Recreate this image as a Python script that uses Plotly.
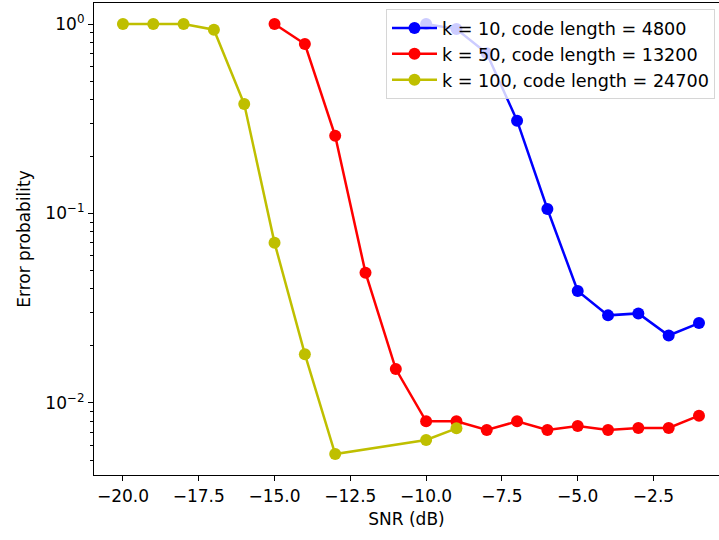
import plotly.graph_objects as go

# ---- data ----
snr_k10 = [-10, -9, -8, -7, -6, -5, -4, -3, -2, -1]
err_k10 = [1.0, 0.94, 0.70, 0.309, 0.1056, 0.039, 0.029, 0.0297, 0.0227, 0.0264]

snr_k50 = [-15, -14, -13, -12, -11, -10, -9, -8, -7, -6, -5, -4, -3, -2, -1]
err_k50 = [1.0, 0.784, 0.257, 0.0487, 0.0151, 0.0080, 0.0080, 0.0072, 0.0080,
           0.0072, 0.00756, 0.0072, 0.00738, 0.00738, 0.00857]

snr_k100 = [-20, -19, -18, -17, -16, -15, -14, -13, -10, -9]
err_k100 = [1.0, 1.0, 1.0, 0.933, 0.378, 0.070, 0.0181, 0.00538, 0.00638, 0.00735]

series_names = ["k = 10, code length = 4800",
                "k = 50, code length = 13200",
                "k = 100, code length = 24700"]
series_colors = ["#0000ff", "#ff0000", "#bfbf00"]

x_tickvals = [-20.0, -17.5, -15.0, -12.5, -10.0, -7.5, -5.0, -2.5]
x_ticktext = ["\u221220.0", "\u221217.5", "\u221215.0", "\u221212.5",
              "\u221210.0", "\u22127.5", "\u22125.0", "\u22122.5"]
y_tickvals = [1, 0.1, 0.01]
y_ticktext = ["10<sup>0</sup>", "10<sup>\u22121</sup>", "10<sup>\u22122</sup>"]

W, H = 719, 540
ML, MR, MT, MB = 94, 0, 3, 65
FS = 17
LFS = 17.6

fig = go.Figure()
for i, (xs, ys) in enumerate([(snr_k10, err_k10), (snr_k50, err_k50), (snr_k100, err_k100)]):
    fig.add_trace(go.Scatter(
        x=xs, y=ys, mode="lines+markers", name=series_names[i],
        line=dict(color=series_colors[i], width=2.5),
        marker=dict(color=series_colors[i], size=12, line=dict(width=0)),
    ))

font_family = "DejaVu Sans"
fig.update_layout(
    width=W, height=H,
    margin=dict(l=ML, r=MR, t=MT, b=MB, pad=0),
    paper_bgcolor="white", plot_bgcolor="white",
    font=dict(family=font_family, size=FS, color="black"),
    showlegend=True,
    legend=dict(
        x=(386 - ML) / (W - ML), y=1 - (9 - MT) / (H - MT - MB),
        xanchor="left", yanchor="top",
        bgcolor="rgba(255,255,255,0.8)",
        bordercolor="rgba(204,204,204,0.8)", borderwidth=1,
        font=dict(family=font_family, size=LFS, color="black"),
        traceorder="normal",
        itemwidth=45,
    ),
    xaxis=dict(
        range=[-20.955, -0.34], automargin=False,
        tickvals=x_tickvals, ticktext=x_ticktext,
        showgrid=False, zeroline=False,
        showline=True, linecolor="black", linewidth=1.2, mirror=True,
        ticks="outside", ticklen=5, tickwidth=1.2, tickcolor="black",
        title=dict(text="SNR (dB)", standoff=8, font=dict(size=FS)),
        tickfont=dict(size=FS),
    ),
    yaxis=dict(
        type="log", automargin=False,
        range=[-2.380, 0.1108],
        tickvals=y_tickvals, ticktext=y_ticktext,
        showgrid=False, zeroline=False,
        showline=True, linecolor="black", linewidth=1.2, mirror=False,
        ticks="outside", ticklen=5, tickwidth=1.2, tickcolor="black",
        minor=dict(ticks="outside", ticklen=3, tickwidth=0.8, tickcolor="black",
                   showgrid=False, dtick="D1"),
        title=dict(text="Error probability", standoff=10, font=dict(size=FS)),
        tickfont=dict(size=FS),
    ),
)

fig.write_html("out.html", config={"displayModeBar": False})

# remove default browser body margin so the figure sits at the page origin
with open("out.html", "r", encoding="utf-8") as f:
    html = f.read()
html = html.replace("<head>", "<head><style>html,body{margin:0;padding:0;}</style>", 1)
with open("out.html", "w", encoding="utf-8") as f:
    f.write(html)
